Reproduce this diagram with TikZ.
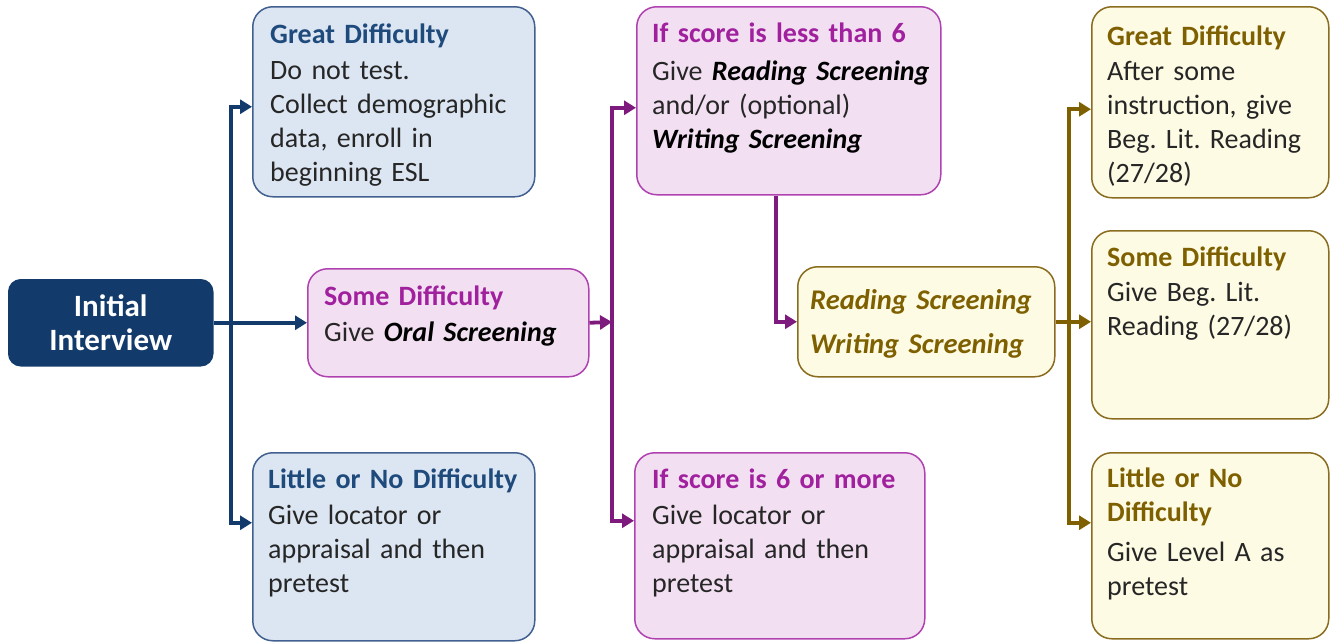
\documentclass[tikz,border=0pt]{standalone}
\usepackage{fontspec}
\setmainfont{Carlito}
\usetikzlibrary{arrows.meta,calc}
\definecolor{navy}{HTML}{123A6B}
\definecolor{bluefill}{HTML}{DCE6F2}
\definecolor{blueedge}{HTML}{41608F}
\definecolor{bluetitle}{HTML}{1F4A7C}
\definecolor{pinkfill}{HTML}{F2E0F2}
\definecolor{pinkedge}{HTML}{B042B0}
\definecolor{pinktitle}{HTML}{A0209E}
\definecolor{purpleline}{HTML}{7E1A7E}
\definecolor{creamfill}{HTML}{FDFBE4}
\definecolor{oliveedge}{HTML}{8A6C1E}
\definecolor{olivetext}{HTML}{7F6000}
\definecolor{bodytext}{HTML}{262626}
\frenchspacing
\begin{document}
\begin{tikzpicture}[x=1pt,y=-1pt,
  box/.style={draw, rounded corners=20pt, line width=1.5pt, anchor=north west, inner sep=0pt},
  bluebox/.style={box, fill=bluefill, draw=blueedge},
  pinkbox/.style={box, fill=pinkfill, draw=pinkedge},
  creambox/.style={box, fill=creamfill, draw=oliveedge},
  txt/.style={font=\fontsize{28}{34}\selectfont, text=bodytext, anchor=base west, align=left, text width=290pt, inner sep=0pt},
  ttl/.style={font=\bfseries\fontsize{28.5}{34}\selectfont},
  conn/.style={line width=3.8pt, -{Triangle[length=12pt,width=14pt]}},
  navyconn/.style={conn, draw=navy},
  purpconn/.style={conn, draw=purpleline},
  oliveconn/.style={conn, draw=olivetext}]
\useasboundingbox (0,0) rectangle (1338,641);

% boxes
\node[box, fill=navy, draw=navy, rounded corners=12pt, minimum width=204pt, minimum height=86pt, text=white, align=center, font=\bfseries\fontsize{31}{34}\selectfont] (init) at (8,279) {Initial\\Interview};
\node[bluebox, minimum width=282pt, minimum height=190pt] (gd) at (252,6) {};
\node[pinkbox, minimum width=281pt, minimum height=108pt] (sd) at (307,268) {};
\node[bluebox, minimum width=282pt, minimum height=188pt] (lnd) at (252,452) {};
\node[pinkbox, minimum width=304pt, minimum height=188pt] (l6) at (636,6) {};
\node[pinkbox, minimum width=290pt, minimum height=186pt] (m6) at (634,452) {};
\node[creambox, minimum width=257pt, minimum height=110pt] (rw) at (797,266) {};
\node[creambox, minimum width=237pt, minimum height=191pt] (rg) at (1091,6) {};
\node[creambox, minimum width=237pt, minimum height=188pt] (rs) at (1091,230) {};
\node[creambox, minimum width=237pt, minimum height=186pt] (rl) at (1091,452) {};

% texts
\node[txt] (gdt) at (270,43) {\textcolor{bluetitle}{\textbf{Great Difficulty}}\\[2pt]Do not test.\\Collect demographic\\data, enroll in\\beginning ESL};
\node[txt] (sdt) at (324,305) {\textcolor{pinktitle}{\textbf{Some Difficulty}}\\[2pt]Give \textbf{\textit{\color{black}Oral Screening}}};
\node[txt] (lndt) at (268,488) {\textcolor{bluetitle}{\textbf{Little or No Difficulty}}\\[2pt]Give locator or\\appraisal and then\\pretest};
\node[txt] (l6t) at (652,42) {\textcolor{pinktitle}{\textbf{If score is less than 6}}\\[4pt]Give \textbf{\textit{\color{black}Reading Screening}}\\and/or (optional)\\\textbf{\textit{\color{black}Writing Screening}}};
\node[txt] (m6t) at (652,488) {\textcolor{pinktitle}{\textbf{If score is 6 or more}}\\[2pt]Give locator or\\appraisal and then\\pretest};
\node[txt, font=\bfseries\itshape\fontsize{28.5}{44}\selectfont, text=olivetext] (rwt) at (810,309) {Reading Screening\\Writing Screening};
\node[txt] (rgt) at (1107,45) {\textcolor{olivetext}{\textbf{Great Difficulty}}\\[1pt]After some\\instruction, give\\Beg. Lit. Reading\\(27/28)};
\node[txt] (rst) at (1107,266) {\textcolor{olivetext}{\textbf{Some Difficulty}}\\[1pt]Give Beg. Lit.\\Reading (27/28)};
\node[txt] (rlt) at (1107,487) {\textcolor{olivetext}{\textbf{Little or No}}\\\textcolor{olivetext}{\textbf{Difficulty}}\\[6pt]Give Level A as\\pretest};

% navy connectors
\coordinate (nj) at (231,322);
\draw[navyconn] (init.east) -- (sd.west);
\draw[navyconn] (nj) |- ([yshift=-5pt]gd.west);
\draw[navyconn] (nj) |- ([yshift=24pt]lnd.west);

% purple connectors
\coordinate (pj) at (612,322);
\draw[purpconn] (sd.east) -- (pj);
\draw[purpconn] (pj) |- ([yshift=-7pt]l6.west);
\draw[purpconn] (pj) |- ([yshift=25pt]m6.west);
\draw[purpconn] ([xshift=-13pt]l6.south) |- (rw.west);

% olive connectors
\coordinate (oj) at (1069,321);
\draw[oliveconn] (rw.east) -- (rw.east -| rs.west);
\draw[oliveconn] (oj) |- ([yshift=-7pt]rg.west);
\draw[oliveconn] (oj) |- ([yshift=23pt]rl.west);
\end{tikzpicture}
\end{document}
